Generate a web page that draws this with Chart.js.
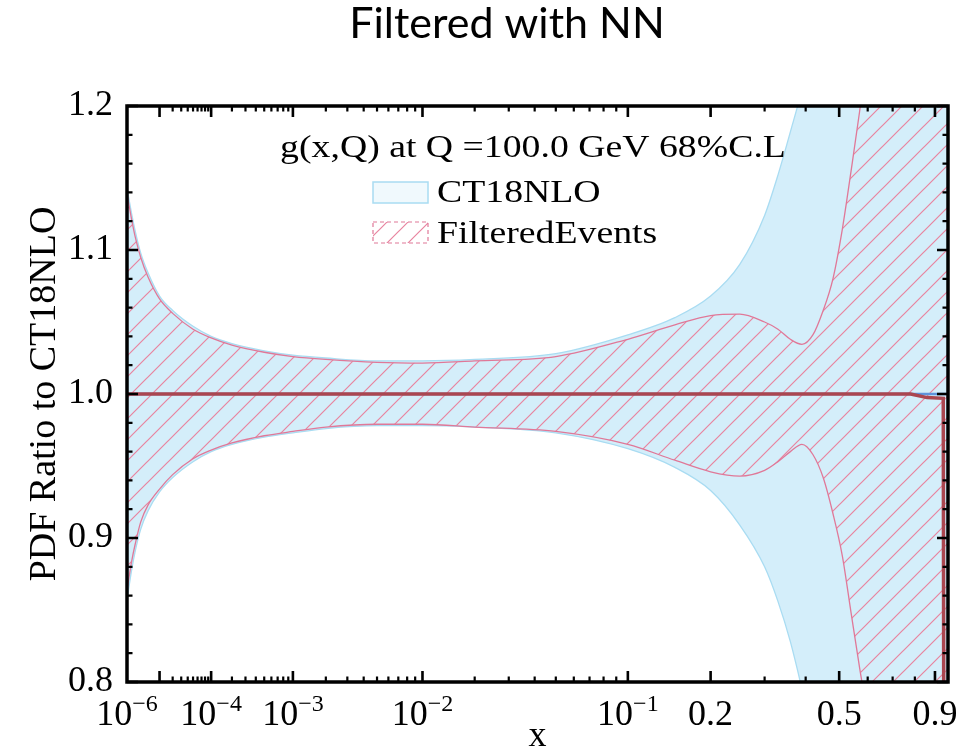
<!DOCTYPE html>
<html>
<head>
<meta charset="utf-8">
<script src="https://cdn.jsdelivr.net/npm/chart.js@4.4.1/dist/chart.umd.min.js"></script>
<style>
  html, body { margin: 0; padding: 0; background: #ffffff; }
  #wrap { width: 970px; height: 755px; position: relative; }
  canvas { display: block; }
</style>
</head>
<body>
<div id="wrap"><canvas id="c" width="970" height="755"></canvas></div>
<script>
// ---- momentum fraction grid and PDF ratio bands (ratio to CT18NLO central) ----
const xGrid = [1e-6, 1.5e-6, 2e-6, 3e-6, 5e-6, 1e-5, 2e-5, 5e-5, 1e-4, 2e-4, 5e-4,
               1e-3, 2e-3, 5e-3, 1e-2, 2e-2, 5e-2, 0.1, 0.15, 0.2, 0.25, 0.3, 0.33,
               0.36, 0.39, 0.42, 0.45, 0.48, 0.51, 0.54, 0.57, 0.6, 0.65, 0.7, 0.8, 0.9, 0.97];

const ct18Upper = [1.143, 1.125, 1.113, 1.098, 1.084, 1.068, 1.058, 1.047, 1.040, 1.035, 1.030,
                   1.027, 1.025, 1.023, 1.023, 1.024, 1.028, 1.041, 1.053, 1.068, 1.090, 1.124, 1.152,
                   1.182, 1.212, 1.25, 1.29, 1.34, 1.40, 1.46, 1.52, 1.58, 1.68, 1.80, 2.1, 2.5, 3.0];

const ct18Lower = [0.857, 0.878, 0.891, 0.906, 0.919, 0.932, 0.942, 0.953, 0.960, 0.965, 0.970,
                   0.973, 0.976, 0.978, 0.978, 0.977, 0.973, 0.962, 0.949, 0.933, 0.909, 0.880, 0.856,
                   0.828, 0.795, 0.76, 0.72, 0.67, 0.61, 0.55, 0.49, 0.43, 0.34, 0.24, 0.0, -0.4, -0.8];

const filteredUpper = [1.139, 1.121, 1.109, 1.095, 1.081, 1.066, 1.056, 1.045, 1.039, 1.034, 1.029,
                       1.026, 1.024, 1.022, 1.0215, 1.023, 1.026, 1.038, 1.048, 1.0545, 1.0555, 1.050, 1.045,
                       1.038, 1.0345, 1.041, 1.058, 1.080, 1.114, 1.155, 1.196, 1.24, 1.32, 1.42, 1.7, 2.1, 2.5];

const filteredLower = [0.864, 0.884, 0.896, 0.911, 0.923, 0.934, 0.944, 0.955, 0.961, 0.966, 0.971,
                       0.974, 0.977, 0.979, 0.979, 0.977, 0.974, 0.965, 0.954, 0.946, 0.943, 0.947, 0.953,
                       0.960, 0.965, 0.958, 0.942, 0.917, 0.888, 0.848, 0.810, 0.775, 0.70, 0.62, 0.45, 0.25, 0.1];

// central values
const ct18CentralX = [1e-6, 0.97];
const ct18Central = [1.0, 1.0];
const filteredCentralX = [1e-6, 0.1, 0.5, 0.78, 0.86, 0.944, 0.95];
const filteredCentral = [1.0, 1.0, 1.0, 1.0, 0.9975, 0.997, 0.5];

// axis labels
const xTickValues = [1e-6, 1e-4, 1e-3, 1e-2, 0.1, 0.2, 0.5, 0.9];
const xTickLabels = ['10^-6', '10^-4', '10^-3', '10^-2', '10^-1', '0.2', '0.5', '0.9'];
const xMajorTicks = [1e-5, 1e-4, 1e-3, 1e-2, 0.1, 0.2, 0.5, 0.9];
const xMinorLinear = [0.3, 0.4, 0.6, 0.7, 0.8];

const titleText = 'Filtered with NN';
const legendHeader = 'g(x,Q) at Q =100.0 GeV 68%C.L';
const legendLabels = ['CT18NLO', 'FilteredEvents'];

// ---- x axis: power-law scale u = x^0.2 ----
const X_POWER = 0.2;
class PowerScale extends Chart.LinearScale {
  _bounds() {
    return [Math.pow(this.min, X_POWER), Math.pow(this.max, X_POWER)];
  }
  getPixelForValue(value) {
    if (value === null || value === undefined || !isFinite(value)) return NaN;
    const [a, b] = this._bounds();
    return this.getPixelForDecimal((Math.pow(Math.max(value, 0), X_POWER) - a) / (b - a));
  }
  getValueForPixel(pixel) {
    const [a, b] = this._bounds();
    return Math.pow(a + this.getDecimalForPixel(pixel) * (b - a), 1 / X_POWER);
  }
}
PowerScale.id = 'power';
PowerScale.defaults = {};
Chart.register(PowerScale);

const SERIF = '"Liberation Serif", "Times New Roman", serif';
Chart.defaults.font.family = SERIF;
Chart.defaults.color = '#000';

const canvas = document.getElementById('c');
const ctx = canvas.getContext('2d');

function makeHatch(color, gap, width) {
  const tile = document.createElement('canvas');
  tile.width = gap; tile.height = gap;
  const g = tile.getContext('2d');
  g.strokeStyle = color;
  g.lineWidth = width;
  g.beginPath();
  g.moveTo(-2, gap + 2); g.lineTo(gap + 2, -2);
  g.moveTo(-2, 2); g.lineTo(2, -2);
  g.moveTo(gap - 2, gap + 2); g.lineTo(gap + 2, gap - 2);
  g.stroke();
  return ctx.createPattern(tile, 'repeat');
}
const hatch = makeHatch('#e8849f', 21, 1.2);

const pts = (xs, ys) => xs.map((x, i) => ({ x: x, y: ys[i] }));

const BLUE_FILL = '#d4eefa';
const BLUE_EDGE = '#a9dcf2';
const PINK_EDGE = '#e07898';

function stretchedText(c, text, x, y, size, sx, align) {
  c.save();
  c.font = size + 'px ' + SERIF;
  const w = c.measureText(text).width * sx;
  const x0 = align === 'center' ? x - w / 2 : x;
  c.translate(x0, y);
  c.scale(sx, 1);
  c.textAlign = 'left';
  c.textBaseline = 'alphabetic';
  c.fillText(text, 0, 0);
  c.restore();
}

function drawPowerLabel(c, label, px, baseline) {
  const parts = label.split('^');
  c.textAlign = 'left';
  c.textBaseline = 'alphabetic';
  c.font = '36px ' + SERIF;
  const wb = c.measureText(parts[0]).width;
  let we = 0, expText = '';
  if (parts.length > 1) {
    expText = parts[1].replace('-', '\u2212');
    c.font = '24px ' + SERIF;
    we = c.measureText(expText).width;
  }
  const start = px - (wb + we) / 2;
  c.font = '36px ' + SERIF;
  c.fillText(parts[0], start, baseline);
  if (expText) {
    c.font = '24px ' + SERIF;
    c.fillText(expText, start + wb, baseline - 14);
  }
}

const decorations = {
  id: 'decorations',
  afterDatasetsDraw(chart) {
    const c = chart.ctx;
    const a = chart.chartArea;
    const xs = chart.scales.x, ys = chart.scales.y;
    c.save();
    c.strokeStyle = '#000';
    c.lineCap = 'butt';

    // x ticks (bottom and top, pointing inward)
    const xTick = (v, len, w) => {
      const p = xs.getPixelForValue(v);
      c.lineWidth = w;
      c.beginPath();
      c.moveTo(p, a.bottom); c.lineTo(p, a.bottom - len);
      c.moveTo(p, a.top); c.lineTo(p, a.top + len);
      c.stroke();
    };
    xMajorTicks.forEach(v => xTick(v, 11, 2.6));
    for (let k = -5; k <= -2; k++) {
      for (let m = 2; m <= 9; m++) xTick(m * Math.pow(10, k), 5.5, 2.2);
    }
    xMinorLinear.forEach(v => xTick(v, 5.5, 2.2));

    // y ticks (left and right, pointing inward)
    for (let i = 0; i <= 20; i++) {
      const v = 0.8 + i * 0.02;
      const p = ys.getPixelForValue(v);
      const major = i % 5 === 0;
      const len = major ? 11 : 5.5;
      c.lineWidth = major ? 2.6 : 2.2;
      c.beginPath();
      c.moveTo(a.left, p); c.lineTo(a.left + len, p);
      c.moveTo(a.right, p); c.lineTo(a.right - len, p);
      c.stroke();
    }

    // frame
    c.lineWidth = 3.5;
    c.strokeRect(a.left, a.top, a.right - a.left, a.bottom - a.top);

    // x tick labels
    c.fillStyle = '#000';
    xTickValues.forEach((v, i) => drawPowerLabel(c, xTickLabels[i], xs.getPixelForValue(v), 725));

    // legend
    stretchedText(c, legendHeader, 533, 157, 32, 1.18, 'center');
    c.fillStyle = 'rgba(212,238,250,0.35)';
    c.fillRect(373, 182, 55, 21);
    c.strokeStyle = BLUE_EDGE;
    c.lineWidth = 1.5;
    c.strokeRect(373, 182, 55, 21);
    c.fillStyle = hatch;
    c.fillRect(373, 222, 55, 21);
    c.strokeStyle = PINK_EDGE;
    c.lineWidth = 1.2;
    c.setLineDash([4, 3]);
    c.strokeRect(373, 222, 55, 21);
    c.setLineDash([]);
    c.fillStyle = '#000';
    stretchedText(c, legendLabels[0], 437, 202, 32, 1.18, 'left');
    stretchedText(c, legendLabels[1], 437, 243, 32, 1.18, 'left');

    // chart title
    c.font = '43px Lato, "Open Sans", sans-serif';
    c.textAlign = 'center';
    c.textBaseline = 'alphabetic';
    c.fillText(titleText, 507, 38);
    c.restore();
  }
};

new Chart(ctx, {
  type: 'line',
  data: {
    datasets: [
      { label: 'CT18NLO upper', data: pts(xGrid, ct18Upper), borderColor: BLUE_EDGE, borderWidth: 1.3,
        backgroundColor: BLUE_FILL, fill: '+1', order: 3, cubicInterpolationMode: 'monotone' },
      { label: 'CT18NLO lower', data: pts(xGrid, ct18Lower), borderColor: BLUE_EDGE, borderWidth: 1.3,
        fill: false, order: 3, cubicInterpolationMode: 'monotone' },
      { label: 'FilteredEvents upper', data: pts(xGrid, filteredUpper), borderColor: PINK_EDGE, borderWidth: 1.3,
        backgroundColor: hatch, fill: '+1', order: 2, cubicInterpolationMode: 'monotone' },
      { label: 'FilteredEvents lower', data: pts(xGrid, filteredLower), borderColor: PINK_EDGE, borderWidth: 1.3,
        fill: false, order: 2, cubicInterpolationMode: 'monotone' },
      { label: 'CT18NLO', data: pts(ct18CentralX, ct18Central), borderColor: '#5f93dc', borderWidth: 2.5,
        fill: false, order: 1, tension: 0 },
      { label: 'FilteredEvents', data: pts(filteredCentralX, filteredCentral), borderColor: '#aa4650', borderWidth: 3.5,
        fill: false, order: 0, tension: 0 }
    ]
  },
  options: {
    responsive: false,
    animation: false,
    devicePixelRatio: 1,
    layout: { padding: { top: 106, right: 22, bottom: 0, left: 0 } },
    elements: { point: { radius: 0, hoverRadius: 0 } },
    plugins: {
      legend: { display: false },
      tooltip: { enabled: false },
      title: { display: false },
      filler: { drawTime: 'beforeDatasetsDraw' }
    },
    scales: {
      x: {
        type: 'power',
        min: 1e-6,
        max: 0.97,
        grid: { display: false, drawTicks: false },
        border: { display: false },
        ticks: { display: false },
        title: { display: true, text: 'x', font: { size: 36, lineHeight: 1 }, padding: { top: 0, bottom: 0 } },
        afterFit: s => { s.height = 73; }
      },
      y: {
        type: 'linear',
        min: 0.8,
        max: 1.2,
        grid: { display: false, drawTicks: false },
        border: { display: false },
        ticks: { stepSize: 0.1, padding: 14, font: { size: 36 }, callback: v => v.toFixed(1) },
        title: { display: true, text: 'PDF Ratio to CT18NLO', font: { size: 38 }, padding: { top: 22, bottom: 0 } },
        afterFit: s => { s.width = 127; }
      }
    }
  },
  plugins: [decorations]
});
</script>
</body>
</html>
